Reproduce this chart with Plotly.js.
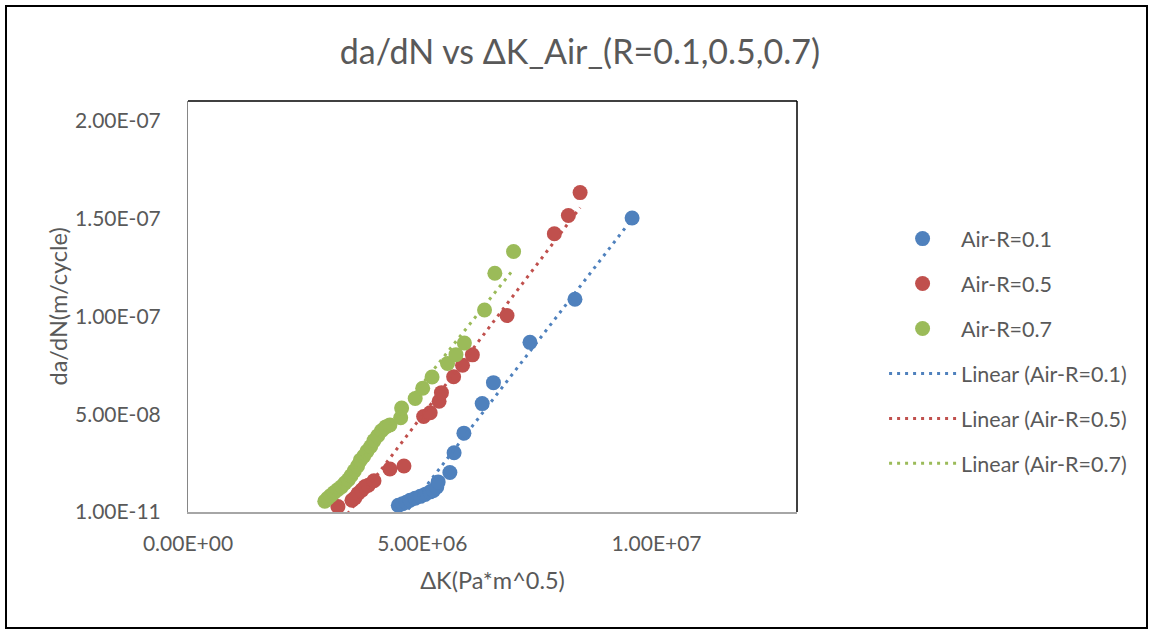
<!DOCTYPE html>
<html>
<head>
<meta charset="utf-8">
<script src="https://cdn.plot.ly/plotly-3.0.1.min.js"></script>
<style>
  html, body { margin: 0; padding: 0; background: #ffffff; }
  #wrap { position: relative; width: 1153px; height: 631px; }
  #chart { width: 1153px; height: 631px; }
  #frame { position: absolute; left: 5px; top: 5px; width: 1139px; height: 620px;
           border: 2px solid #000; pointer-events: none; }
</style>
</head>
<body>
<div id="wrap"><div id="chart"></div><div id="frame"></div></div>
<script>
// ---- data (ΔK in Pa*m^0.5, da/dN in m/cycle) ----
const seriesNames = ["Air-R=0.1", "Air-R=0.5", "Air-R=0.7"];
const trendNames = ["Linear (Air-R=0.1)", "Linear (Air-R=0.5)", "Linear (Air-R=0.7)"];
const colors = ["#4F81BD", "#C0504D", "#9BBB59"];

const dK_R01 = [4.49e6, 4.58e6, 4.66e6, 4.74e6, 4.85e6, 4.96e6, 5.06e6, 5.17e6, 5.24e6, 5.31e6, 5.34e6, 5.59e6, 5.68e6, 5.89e6, 6.28e6, 6.52e6, 7.30e6, 8.26e6, 9.48e6];
const dadN_R01 = [3.4e-9, 4.2e-9, 5.0e-9, 6.0e-9, 7.0e-9, 8.0e-9, 9.0e-9, 1.03e-8, 1.10e-8, 1.28e-8, 1.54e-8, 2.02e-8, 3.03e-8, 4.03e-8, 5.54e-8, 6.61e-8, 8.67e-8, 1.087e-7, 1.502e-7];

const dK_R05 = [3.20e6, 3.50e6, 3.56e6, 3.63e6, 3.71e6, 3.78e6, 3.85e6, 3.97e6, 4.31e6, 4.61e6, 5.03e6, 5.17e6, 5.36e6, 5.41e6, 5.67e6, 5.86e6, 6.07e6, 6.81e6, 7.82e6, 8.12e6, 8.37e6];
const dadN_R05 = [2.8e-9, 6.0e-9, 7.2e-9, 9.5e-9, 1.12e-8, 1.30e-8, 1.37e-8, 1.60e-8, 2.20e-8, 2.35e-8, 4.88e-8, 5.07e-8, 5.66e-8, 6.10e-8, 6.91e-8, 7.50e-8, 8.03e-8, 1.004e-7, 1.422e-7, 1.515e-7, 1.632e-7];

const dK_R07 = [2.92e6, 2.98e6, 3.05e6, 3.12e6, 3.20e6, 3.28e6, 3.35e6, 3.42e6, 3.48e6, 3.55e6, 3.62e6, 3.68e6, 3.75e6, 3.82e6, 3.90e6, 3.97e6, 4.05e6, 4.13e6, 4.22e6, 4.31e6, 4.54e6, 4.56e6, 4.85e6, 5.01e6, 5.21e6, 5.54e6, 5.72e6, 5.90e6, 6.33e6, 6.55e6, 6.95e6];
const dadN_R07 = [5.5e-9, 7.0e-9, 8.5e-9, 1.00e-8, 1.15e-8, 1.30e-8, 1.48e-8, 1.65e-8, 1.85e-8, 2.10e-8, 2.35e-8, 2.65e-8, 2.85e-8, 3.10e-8, 3.35e-8, 3.65e-8, 3.90e-8, 4.15e-8, 4.35e-8, 4.45e-8, 4.82e-8, 5.31e-8, 5.80e-8, 6.32e-8, 6.90e-8, 7.59e-8, 8.04e-8, 8.63e-8, 1.032e-7, 1.22e-7, 1.331e-7];

const xTickVals = [0, 5e6, 1e7];
const xTickText = ["0.00E+00", "5.00E+06", "1.00E+07"];
const yTickVals = [1e-11, 5e-8, 1e-7, 1.5e-7, 2e-7];
const yTickText = ["1.00E-11", "5.00E-08", "1.00E-07", "1.50E-07", "2.00E-07"];

// ---- build traces ----
const xs = [dK_R01, dK_R05, dK_R07];
const ys = [dadN_R01, dadN_R05, dadN_R07];

function linearFit(x, y) {
  const n = x.length;
  let sx = 0, sy = 0, sxx = 0, sxy = 0;
  for (let i = 0; i < n; i++) { sx += x[i]; sy += y[i]; sxx += x[i]*x[i]; sxy += x[i]*y[i]; }
  const m = (n*sxy - sx*sy) / (n*sxx - sx*sx);
  const b = (sy - m*sx) / n;
  const x0 = Math.min(...x), x1 = Math.max(...x);
  return {x: [x0, x1], y: [m*x0 + b, m*x1 + b]};
}

const FONT = "Lato, 'Open Sans', sans-serif";
const GREY = "#595959";
const traces = [];
for (let i = 0; i < 3; i++) {
  traces.push({
    type: "scatter", mode: "markers", name: seriesNames[i], legendgroup: "g" + i,
    x: xs[i], y: ys[i],
    marker: {color: colors[i], size: 15, line: {width: 0}},
    cliponaxis: false, hoverinfo: "x+y+name"
  });
}
for (let i = 0; i < 3; i++) {
  const f = linearFit(xs[i], ys[i]);
  traces.push({
    type: "scatter", mode: "lines", name: trendNames[i], legendgroup: "t" + i,
    x: f.x, y: f.y,
    line: {color: colors[i], width: 3, dash: "3px,5px"},
    hoverinfo: "skip"
  });
}

const layout = {
  width: 1153, height: 631,
  margin: {l: 188, r: 356, t: 101, b: 119, pad: 0},
  paper_bgcolor: "#ffffff", plot_bgcolor: "#ffffff",
  font: {family: FONT, color: GREY, size: 21},
  title: {text: "da/dN vs ΔK_Air_(R=0.1,0.5,0.7)", font: {family: FONT, size: 34, color: GREY},
          x: 0.503, xref: "container", xanchor: "center", y: 0.918, yref: "container", yanchor: "middle"},
  xaxis: {
    range: [0, 1.3e7], tickmode: "array", tickvals: xTickVals, ticktext: xTickText,
    showgrid: false, zeroline: false, showline: true, linecolor: "#A6A6A6", linewidth: 2,
    ticks: "", ticklabelstandoff: 12, tickfont: {size: 21, color: GREY},
    title: {text: "ΔK(Pa*m^0.5)", font: {size: 23.5, color: GREY}, standoff: 18},
    fixedrange: true
  },
  yaxis: {
    range: [1e-11, 2.1e-7], tickmode: "array", tickvals: yTickVals, ticktext: yTickText,
    showgrid: false, zeroline: false, showline: true, linecolor: "#868686", linewidth: 1,
    ticks: "", ticklabelstandoff: 22, tickfont: {size: 21, color: GREY},
    fixedrange: true
  },
  annotations: [
    {text: "da/dN(m/cycle)", xref: "paper", yref: "paper", x: -0.2135, y: 0.5,
     xanchor: "center", yanchor: "middle", textangle: -90, showarrow: false,
     font: {size: 23.5, color: GREY}}
  ],
  shapes: [
    {type: "line", xref: "paper", yref: "paper", x0: 0, x1: 1, y0: 1, y1: 1, line: {color: "#000000", width: 1.5}},
    {type: "line", xref: "paper", yref: "paper", x0: 1, x1: 1, y0: 0, y1: 1, line: {color: "#000000", width: 1.5}}
  ],
  showlegend: true,
  legend: {x: 1.143, xanchor: "left", y: 0.715, yanchor: "top", bgcolor: "rgba(0,0,0,0)",
           font: {size: 21.5, color: GREY}, tracegroupgap: 14, itemwidth: 67, itemclick: false, itemdoubleclick: false}
};

Plotly.newPlot("chart", traces, layout, {displayModeBar: false, staticPlot: false, responsive: false});
</script>
</body>
</html>
